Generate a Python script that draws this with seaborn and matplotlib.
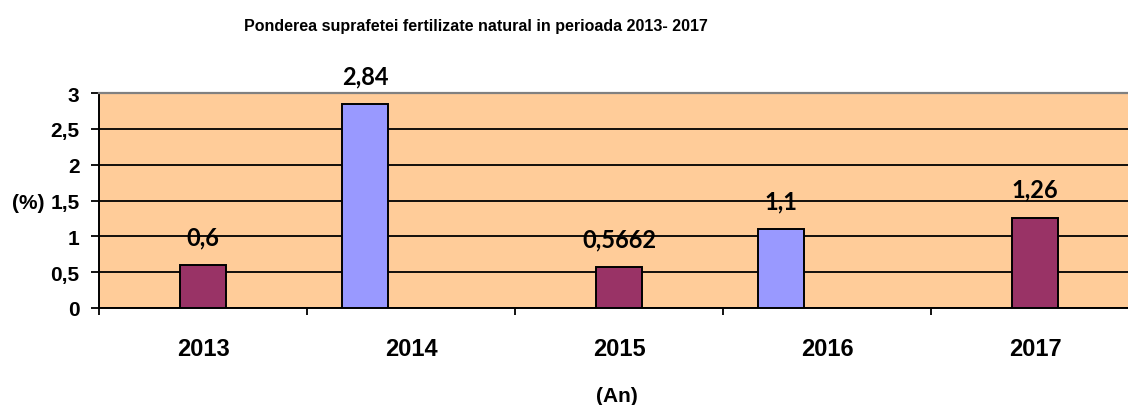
import matplotlib
matplotlib.use("Agg")
import matplotlib.pyplot as plt
from matplotlib.ticker import FixedLocator
import seaborn as sns
import pandas as pd

years = ["2013", "2014", "2015", "2016", "2017"]
values = [0.6, 2.84, 0.5662, 1.1, 1.26]
series = ["S2", "S1", "S2", "S1", "S2"]
value_labels = ["0,6", "2,84", "0,5662", "1,1", "1,26"]
y_ticks = [0, 0.5, 1, 1.5, 2, 2.5, 3]
y_tick_labels = ["0", "0,5", "1", "1,5", "2", "2,5", "3"]
title = "Ponderea suprafetei fertilizate natural in perioada 2013- 2017"

sns.set_theme(style="white")
plt.rcParams["font.family"] = ["Liberation Sans", "DejaVu Sans"]
plt.rcParams["text.color"] = "black"
plt.rcParams["axes.labelcolor"] = "black"
plt.rcParams["xtick.color"] = "black"
plt.rcParams["ytick.color"] = "black"

df = pd.DataFrame({"An": years, "Valoare": values, "Serie": series})
palette = {"S1": "#9999FF", "S2": "#993366", "S3": "#FFFFFF"}

fig = plt.figure(figsize=(11.28, 4.06), dpi=100)
W, H = 1128, 406
ax = fig.add_axes([99 / W, (H - 309) / H, 1040 / W, 215 / H])
ax.set_facecolor("#FFCC99")

sns.barplot(data=df, x="An", y="Valoare", hue="Serie", hue_order=["S1", "S2", "S3"],
            palette=palette, saturation=1, width=0.664, dodge=True, legend=False,
            edgecolor="black", linewidth=1.4, ax=ax, zorder=3)

ax.set_xlim(-0.5, 4.5)
ax.set_ylim(0, 3)
ax.set_yticks(y_ticks)
ax.set_yticklabels(y_tick_labels, fontsize=15, fontweight="bold")
ax.yaxis.grid(True, color="black", linewidth=1.3, zorder=1)
ax.set_axisbelow(True)

ax.set_xticks(range(len(years)))
ax.set_xticklabels(years, fontsize=17, fontweight="bold")
ax.tick_params(axis="x", which="major", length=0, pad=21)
ax.xaxis.set_minor_locator(FixedLocator([i - 0.5 for i in range(len(years) + 1)]))
ax.tick_params(axis="x", which="minor", length=5, width=1.3, color="black", direction="out", bottom=True)
ax.tick_params(axis="y", length=6, width=1.3, color="black", direction="out", left=True, pad=8)

for side in ["left", "bottom"]:
    ax.spines[side].set_color("black")
    ax.spines[side].set_linewidth(1.4)
ax.spines["top"].set_color("#808080")
ax.spines["top"].set_linewidth(1.6)
ax.spines["right"].set_visible(False)

ax.set_ylabel("(%)", rotation=0, fontsize=15, fontweight="bold", ha="center", va="center")
ax.yaxis.set_label_coords(-0.068, 0.493)
ax.set_xlabel("(An)", fontsize=15, fontweight="bold", ha="center", va="center")
ax.xaxis.set_label_coords(0.498, -0.405)

for container in ax.containers:
    for bar in container:
        h = bar.get_height()
        if h != h or h == 0 or h not in values:
            continue
        idx = values.index(h)
        cx = bar.get_x() + bar.get_width() / 2
        ax.annotate(value_labels[idx], (cx, h), xytext=(0, 15), textcoords="offset points",
                    ha="center", va="baseline", fontsize=17, fontweight="bold", color="black",
                    family=["Lato", "DejaVu Sans"], annotation_clip=False, zorder=5)

fig.text(476 / W, 1 - 26 / H, title, ha="center", va="center", fontsize=11.5,
         fontweight="bold", color="black")

fig.savefig("out.png", dpi=100)
